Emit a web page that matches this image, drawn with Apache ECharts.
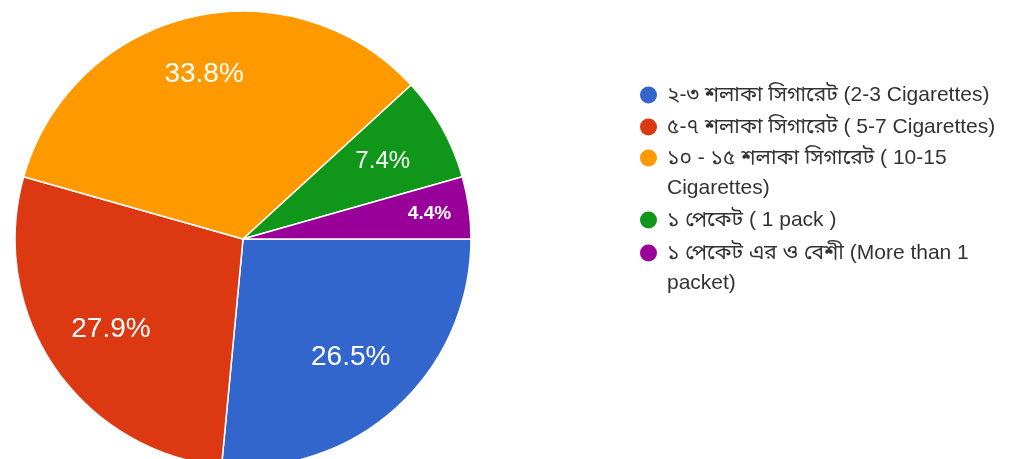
<!DOCTYPE html>
<html>
<head>
<meta charset="utf-8">
<script src="https://cdn.jsdelivr.net/npm/echarts@6/dist/echarts.min.js"></script>
<style>
  html, body { margin: 0; padding: 0; background: #ffffff; }
  #chart { width: 1019px; height: 459px; }
</style>
</head>
<body>
<div id="chart"></div>
<script>
// Daily cigarette consumption (share of respondents, %)
const categories = [
  '২-৩ শলাকা সিগারেট (2-3 Cigarettes)',
  '৫-৭ শলাকা সিগারেট ( 5-7 Cigarettes)',
  '১০ - ১৫ শলাকা সিগারেট ( 10-15\nCigarettes)',
  '১ পেকেট ( 1 pack )',
  '১ পেকেট এর ও বেশী (More than 1\npacket)'
];
const shares = [26.5, 27.9, 33.8, 7.4, 4.4];

// Styling
const colors = ['#3366cc', '#dc3912', '#ff9900', '#109618', '#990099'];
const labelSizes = [28, 28, 28, 24, 19];
const labelWeights = ['normal', 'normal', 'normal', 'normal', 'bold'];
const labelShift = { 2: [-2, -9], 4: [28, -3] };
const legendIconCenters = [95, 127, 158, 220, 253];

const FONT = 'Arial, "Liberation Sans", "Noto Sans Bengali", "Noto Sans", sans-serif';
const CENTER = [243, 239];
const R = 228;
const LINE_H = 30;
const ICON = 19;

const chart = echarts.init(document.getElementById('chart'), null, { renderer: 'canvas' });

const pieData = categories.map((name, i) => ({
  name: name,
  value: shares[i],
  itemStyle: { color: colors[i] }
}));

const labelData = categories.map((name, i) => ({
  name: name,
  value: shares[i],
  label: { fontSize: labelSizes[i], fontWeight: labelWeights[i] }
}));

// One legend block per entry; wrapped names get a leading blank line so
// their first line sits level with the icon.
const legends = categories.map((name, i) => {
  const lines = name.split('\n').length;
  const shown = lines > 1 ? 2 * lines - 1 : 1;
  const half = shown * LINE_H / 2;
  return {
    orient: 'vertical',
    left: 638,
    top: legendIconCenters[i] - half,
    padding: 0,
    itemGap: 0,
    itemWidth: ICON,
    itemHeight: ICON,
    icon: 'circle',
    data: [name],
    formatter: n => (lines > 1 ? '\n' : '') + n,
    textStyle: {
      fontFamily: FONT, fontSize: 21, color: '#333333',
      lineHeight: LINE_H, padding: [0, 0, 0, 4]
    }
  };
});

chart.setOption({
  animation: false,
  backgroundColor: '#ffffff',
  legend: legends,
  series: [
    {
      type: 'pie',
      center: CENTER,
      radius: [0, R],
      startAngle: 0,
      clockwise: true,
      data: pieData,
      label: { show: false },
      labelLine: { show: false },
      itemStyle: { borderColor: '#ffffff', borderWidth: 1.5 },
      emphasis: { scale: false }
    },
    {
      // transparent ring that carries the percentage labels
      type: 'pie',
      center: CENTER,
      radius: [86, R],
      startAngle: 0,
      clockwise: true,
      silent: true,
      data: labelData,
      itemStyle: { color: 'rgba(0,0,0,0)', borderWidth: 0 },
      label: {
        show: true,
        position: 'inside',
        color: '#ffffff',
        fontFamily: FONT,
        formatter: p => p.value.toFixed(1) + '%'
      },
      labelLine: { show: false },
      labelLayout: function (params) {
        const s = labelShift[params.dataIndex];
        return s ? { dx: s[0], dy: s[1] } : {};
      },
      emphasis: { disabled: true }
    }
  ]
});
</script>
</body>
</html>
